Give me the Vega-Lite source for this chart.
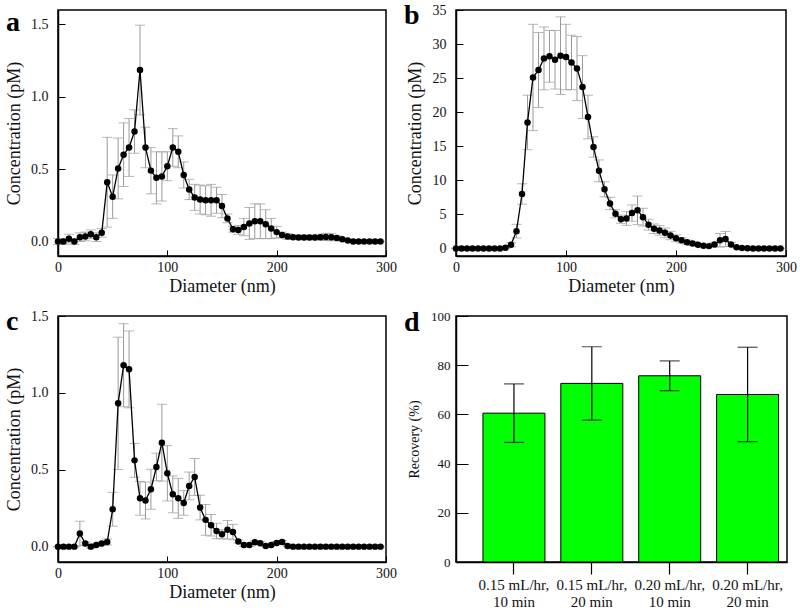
{
  "$schema": "https://vega.github.io/schema/vega-lite/v6.json",
  "padding": {"left": 4, "top": 1, "right": 5, "bottom": 0},
  "background": "white",
  "config": {
    "font": "Liberation Serif",
    "view": {"stroke": "black", "strokeWidth": 1.5},
    "axis": {"grid": false, "domain": true, "domainColor": "black", "domainWidth": 1.5, "ticks": true, "tickColor": "black", "tickWidth": 1, "zindex": 1,
      "labelFlush": false, "labelOverlap": false,
      "labelFont": "Liberation Serif", "titleFont": "Liberation Serif", "labelFontSize": 14, "titleFontSize": 18,
      "titleFontWeight": "normal", "labelColor": "#111", "titleColor": "#111"},
    "title": {"font": "Liberation Serif", "fontSize": 28, "fontWeight": "bold", "color": "black", "anchor": "start", "frame": "group", "offset": -27, "baseline": "alphabetic", "dx": -52}
  },
  "datasets": {
    "a": [
      {"d":0,"c":0,"e":0.02},{"d":5,"c":0,"e":0.02},{"d":10,"c":0.02,"e":0.03},{"d":15,"c":0,"e":0.02},{"d":20,"c":0.03,"e":0.03},
      {"d":25,"c":0.035,"e":0.03},{"d":30,"c":0.05,"e":0.03},{"d":35,"c":0.03,"e":0.03},{"d":40,"c":0.06,"e":0.03},{"d":45,"c":0.41,"e":0.31},
      {"d":50,"c":0.31,"e":0.15},{"d":55,"c":0.505,"e":0.21},{"d":60,"c":0.6,"e":0.22},{"d":65,"c":0.65,"e":0.2},{"d":70,"c":0.76,"e":0.15},
      {"d":75,"c":1.185,"e":0.31},{"d":80,"c":0.65,"e":0.14},{"d":85,"c":0.49,"e":0.16},{"d":90,"c":0.44,"e":0.18},{"d":95,"c":0.45,"e":0.17},
      {"d":100,"c":0.52,"e":0.1},{"d":105,"c":0.65,"e":0.13},{"d":110,"c":0.62,"e":0.11},{"d":115,"c":0.46,"e":0.09},{"d":120,"c":0.36,"e":0.07},
      {"d":125,"c":0.305,"e":0.09},{"d":130,"c":0.29,"e":0.1},{"d":135,"c":0.285,"e":0.1},{"d":140,"c":0.285,"e":0.11},{"d":145,"c":0.285,"e":0.09},
      {"d":150,"c":0.245,"e":0.08},{"d":155,"c":0.16,"e":0.03},{"d":160,"c":0.085,"e":0.02},{"d":165,"c":0.08,"e":0.03},{"d":170,"c":0.1,"e":0.06},
      {"d":175,"c":0.125,"e":0.11},{"d":180,"c":0.14,"e":0.12},{"d":185,"c":0.14,"e":0.12},{"d":190,"c":0.12,"e":0.1},{"d":195,"c":0.09,"e":0.07},
      {"d":200,"c":0.065,"e":0.04},{"d":205,"c":0.045,"e":0.02},{"d":210,"c":0.035,"e":0.02},{"d":215,"c":0.03,"e":0.015},{"d":220,"c":0.028,"e":0.015},
      {"d":225,"c":0.028,"e":0.015},{"d":230,"c":0.028,"e":0.015},{"d":235,"c":0.028,"e":0.015},{"d":240,"c":0.03,"e":0.02},{"d":245,"c":0.032,"e":0.025},
      {"d":250,"c":0.03,"e":0.025},{"d":255,"c":0.025,"e":0.015},{"d":260,"c":0.015,"e":0.01},{"d":265,"c":0.007,"e":0.005},{"d":270,"c":0,"e":0},
      {"d":275,"c":0,"e":0},{"d":280,"c":0,"e":0},{"d":285,"c":0,"e":0},{"d":290,"c":0,"e":0},{"d":295,"c":0,"e":0}
    ],
    "b": [
      {"d":0,"c":0,"e":0.05},{"d":5,"c":0,"e":0.05},{"d":10,"c":0,"e":0.05},{"d":15,"c":0,"e":0.05},{"d":20,"c":0,"e":0.05},
      {"d":25,"c":0,"e":0.05},{"d":30,"c":0,"e":0.05},{"d":35,"c":0,"e":0.05},{"d":40,"c":0,"e":0.05},{"d":45,"c":0.1,"e":0.1},
      {"d":50,"c":0.55,"e":0.3},{"d":55,"c":2.55,"e":1.0},{"d":60,"c":8.0,"e":1.5},{"d":65,"c":18.5,"e":4.0},{"d":70,"c":25.1,"e":7.8},
      {"d":75,"c":26.2,"e":5.5},{"d":80,"c":27.9,"e":4.6},{"d":85,"c":28.2,"e":3.8},{"d":90,"c":27.7,"e":4.3},{"d":95,"c":28.3,"e":5.7},
      {"d":100,"c":28.1,"e":4.8},{"d":105,"c":27.3,"e":4.0},{"d":110,"c":26.4,"e":4.7},{"d":115,"c":23.7,"e":4.6},{"d":120,"c":19.3,"e":3.2},
      {"d":125,"c":14.9,"e":1.5},{"d":130,"c":11.4,"e":1.6},{"d":135,"c":8.7,"e":1.1},{"d":140,"c":6.6,"e":0.9},{"d":145,"c":5.1,"e":0.6},
      {"d":150,"c":4.3,"e":0.6},{"d":155,"c":4.4,"e":1.0},{"d":160,"c":5.2,"e":1.2},{"d":165,"c":5.6,"e":2.1},{"d":170,"c":4.6,"e":1.3},
      {"d":175,"c":3.5,"e":0.8},{"d":180,"c":2.9,"e":0.7},{"d":185,"c":2.65,"e":0.7},{"d":190,"c":2.3,"e":0.7},{"d":195,"c":1.9,"e":0.6},
      {"d":200,"c":1.5,"e":0.5},{"d":205,"c":1.2,"e":0.4},{"d":210,"c":0.93,"e":0.3},{"d":215,"c":0.74,"e":0.3},{"d":220,"c":0.54,"e":0.2},
      {"d":225,"c":0.4,"e":0.15},{"d":230,"c":0.35,"e":0.15},{"d":235,"c":0.6,"e":0.3},{"d":240,"c":1.2,"e":1.0},{"d":245,"c":1.4,"e":1.1},
      {"d":250,"c":0.6,"e":0.3},{"d":255,"c":0.2,"e":0.1},{"d":260,"c":0.08,"e":0.05},{"d":265,"c":0.03,"e":0.05},{"d":270,"c":0,"e":0.05},
      {"d":275,"c":0,"e":0.05},{"d":280,"c":0,"e":0.05},{"d":285,"c":0,"e":0.05},{"d":290,"c":0,"e":0.05},{"d":295,"c":0,"e":0.05}
    ],
    "c": [
      {"d":0,"c":0,"e":0},{"d":5,"c":0,"e":0},{"d":10,"c":0,"e":0},{"d":15,"c":0,"e":0},{"d":20,"c":0.085,"e":0.08},
      {"d":25,"c":0.02,"e":0.01},{"d":30,"c":0,"e":0.01},{"d":35,"c":0.01,"e":0.01},{"d":40,"c":0.02,"e":0.01},{"d":45,"c":0.03,"e":0.02},
      {"d":50,"c":0.243,"e":0.11},{"d":55,"c":0.932,"e":0.43},{"d":60,"c":1.18,"e":0.27},{"d":65,"c":1.153,"e":0.25},{"d":70,"c":0.561,"e":0.11},
      {"d":75,"c":0.314,"e":0.11},{"d":80,"c":0.3,"e":0.12},{"d":85,"c":0.373,"e":0.13},{"d":90,"c":0.518,"e":0.09},{"d":95,"c":0.676,"e":0.25},
      {"d":100,"c":0.477,"e":0.18},{"d":105,"c":0.34,"e":0.12},{"d":110,"c":0.314,"e":0.13},{"d":115,"c":0.284,"e":0.08},{"d":120,"c":0.395,"e":0.09},
      {"d":125,"c":0.453,"e":0.12},{"d":130,"c":0.254,"e":0.08},{"d":135,"c":0.174,"e":0.1},{"d":140,"c":0.139,"e":0.07},{"d":145,"c":0.102,"e":0.05},
      {"d":150,"c":0.08,"e":0.03},{"d":155,"c":0.11,"e":0.06},{"d":160,"c":0.095,"e":0.05},{"d":165,"c":0.033,"e":0.01},{"d":170,"c":0.011,"e":0.01},
      {"d":175,"c":0.01,"e":0.01},{"d":180,"c":0.028,"e":0.01},{"d":185,"c":0.022,"e":0.01},{"d":190,"c":0.004,"e":0.005},{"d":195,"c":0.01,"e":0.005},
      {"d":200,"c":0.024,"e":0.01},{"d":205,"c":0.03,"e":0.01},{"d":210,"c":0.004,"e":0.005},{"d":215,"c":0,"e":0},{"d":220,"c":0,"e":0},
      {"d":225,"c":0,"e":0},{"d":230,"c":0,"e":0},{"d":235,"c":0,"e":0},{"d":240,"c":0,"e":0},{"d":245,"c":0,"e":0},
      {"d":250,"c":0,"e":0},{"d":255,"c":0,"e":0},{"d":260,"c":0,"e":0},{"d":265,"c":0,"e":0},{"d":270,"c":0,"e":0},
      {"d":275,"c":0,"e":0},{"d":280,"c":0,"e":0},{"d":285,"c":0,"e":0},{"d":290,"c":0,"e":0},{"d":295,"c":0,"e":0}
    ],
    "d": [
      {"cond":"0.15 mL/hr, 10 min","r":60.5,"e":11.9},
      {"cond":"0.15 mL/hr, 20 min","r":72.6,"e":14.9},
      {"cond":"0.20 mL/hr, 10 min","r":75.7,"e":6.05},
      {"cond":"0.20 mL/hr, 20 min","r":68.1,"e":19.2}
    ]
  },
  "columns": 2,
  "spacing": {"row": 60, "column": 70},
  "bounds": "flush",
  "concat": [
    {
      "title": {"text": "a"},
      "width": 328, "height": 246,
      "data": {"name": "a"},
      "encoding": {
        "x": {"field": "d", "type": "quantitative", "scale": {"domain": [0, 300], "nice": false, "zero": false},
          "axis": {"title": "Diameter (nm)", "values": [0,100,200,300], "tickSize": -6, "labelPadding": 10, "titlePadding": 3}},
        "y": {"field": "c", "type": "quantitative", "scale": {"domain": [-0.1, 1.6], "nice": false, "zero": false},
          "axis": {"title": "Concentration (pM)", "values": [0,0.5,1,1.5], "format": ".1f", "tickSize": -7, "labelPadding": 17, "titlePadding": 7}}
      },
      "layer": [
        {"mark": {"type": "errorbar", "ticks": {"size": 10}, "color": "#999999", "thickness": 1}, "encoding": {"yError": {"field": "e"}}},
        {"mark": {"type": "line", "color": "black", "strokeWidth": 1.3}, "encoding": {}},
        {"mark": {"type": "circle", "color": "black", "size": 42, "opacity": 1}, "encoding": {}}
      ]
    },
    {
      "title": {"text": "b"},
      "width": 330, "height": 246,
      "data": {"name": "b"},
      "encoding": {
        "x": {"field": "d", "type": "quantitative", "scale": {"domain": [0, 300], "nice": false, "zero": false},
          "axis": {"title": "Diameter (nm)", "values": [0,100,200,300], "tickSize": -6, "labelPadding": 10, "titlePadding": 3}},
        "y": {"field": "c", "type": "quantitative", "scale": {"domain": [-1.1, 35], "nice": false, "zero": false},
          "axis": {"title": "Concentration (pM)", "values": [0,5,10,15,20,25,30,35], "tickSize": -7, "labelPadding": 17, "titlePadding": 8}}
      },
      "layer": [
        {"mark": {"type": "errorbar", "ticks": {"size": 10}, "color": "#999999", "thickness": 1}, "encoding": {"yError": {"field": "e"}}},
        {"mark": {"type": "line", "color": "black", "strokeWidth": 1.3}, "encoding": {}},
        {"mark": {"type": "circle", "color": "black", "size": 42, "opacity": 1}, "encoding": {}}
      ]
    },
    {
      "title": {"text": "c"},
      "width": 328, "height": 246,
      "data": {"name": "c"},
      "encoding": {
        "x": {"field": "d", "type": "quantitative", "scale": {"domain": [0, 300], "nice": false, "zero": false},
          "axis": {"title": "Diameter (nm)", "values": [0,100,200,300], "tickSize": -6, "labelPadding": 10, "titlePadding": 3}},
        "y": {"field": "c", "type": "quantitative", "scale": {"domain": [-0.1, 1.5], "nice": false, "zero": false},
          "axis": {"title": "Concentration (pM)", "values": [0,0.5,1,1.5], "format": ".1f", "tickSize": -7, "labelPadding": 17, "titlePadding": 7}}
      },
      "layer": [
        {"mark": {"type": "errorbar", "ticks": {"size": 10}, "color": "#999999", "thickness": 1}, "encoding": {"yError": {"field": "e"}}},
        {"mark": {"type": "line", "color": "black", "strokeWidth": 1.3}, "encoding": {}},
        {"mark": {"type": "circle", "color": "black", "size": 42, "opacity": 1}, "encoding": {}}
      ]
    },
    {
      "title": {"text": "d"},
      "width": 331, "height": 246,
      "data": {"name": "d"},
      "encoding": {
        "x": {"field": "cond", "type": "nominal", "sort": null,
          "scale": {"paddingInner": 0.204, "paddingOuter": 0.227, "align": 0.762},
          "axis": {"title": null, "labelAngle": 0, "labelExpr": "[slice(datum.label, 0, 11), slice(datum.label, 12)]",
            "tickSize": 12, "tickWidth": 1.2, "labelPadding": 3, "labelFontSize": 15, "labelLineHeight": 17, "labelBaseline": "top"}},
        "y": {"field": "r", "type": "quantitative", "scale": {"domain": [0, 100], "nice": false},
          "axis": {"title": "Recovery (%)", "titleFontSize": 14, "labelFontSize": 13,
            "values": [0,20,40,60,80,100], "tickSize": -12, "labelPadding": 18, "titlePadding": 9}}
      },
      "layer": [
        {"mark": {"type": "bar", "color": "#00ff00", "stroke": "black", "strokeWidth": 1}, "encoding": {}},
        {"mark": {"type": "errorbar", "ticks": {"size": 20}, "color": "black", "thickness": 1.2}, "encoding": {"yError": {"field": "e"}}}
      ]
    }
  ]
}
